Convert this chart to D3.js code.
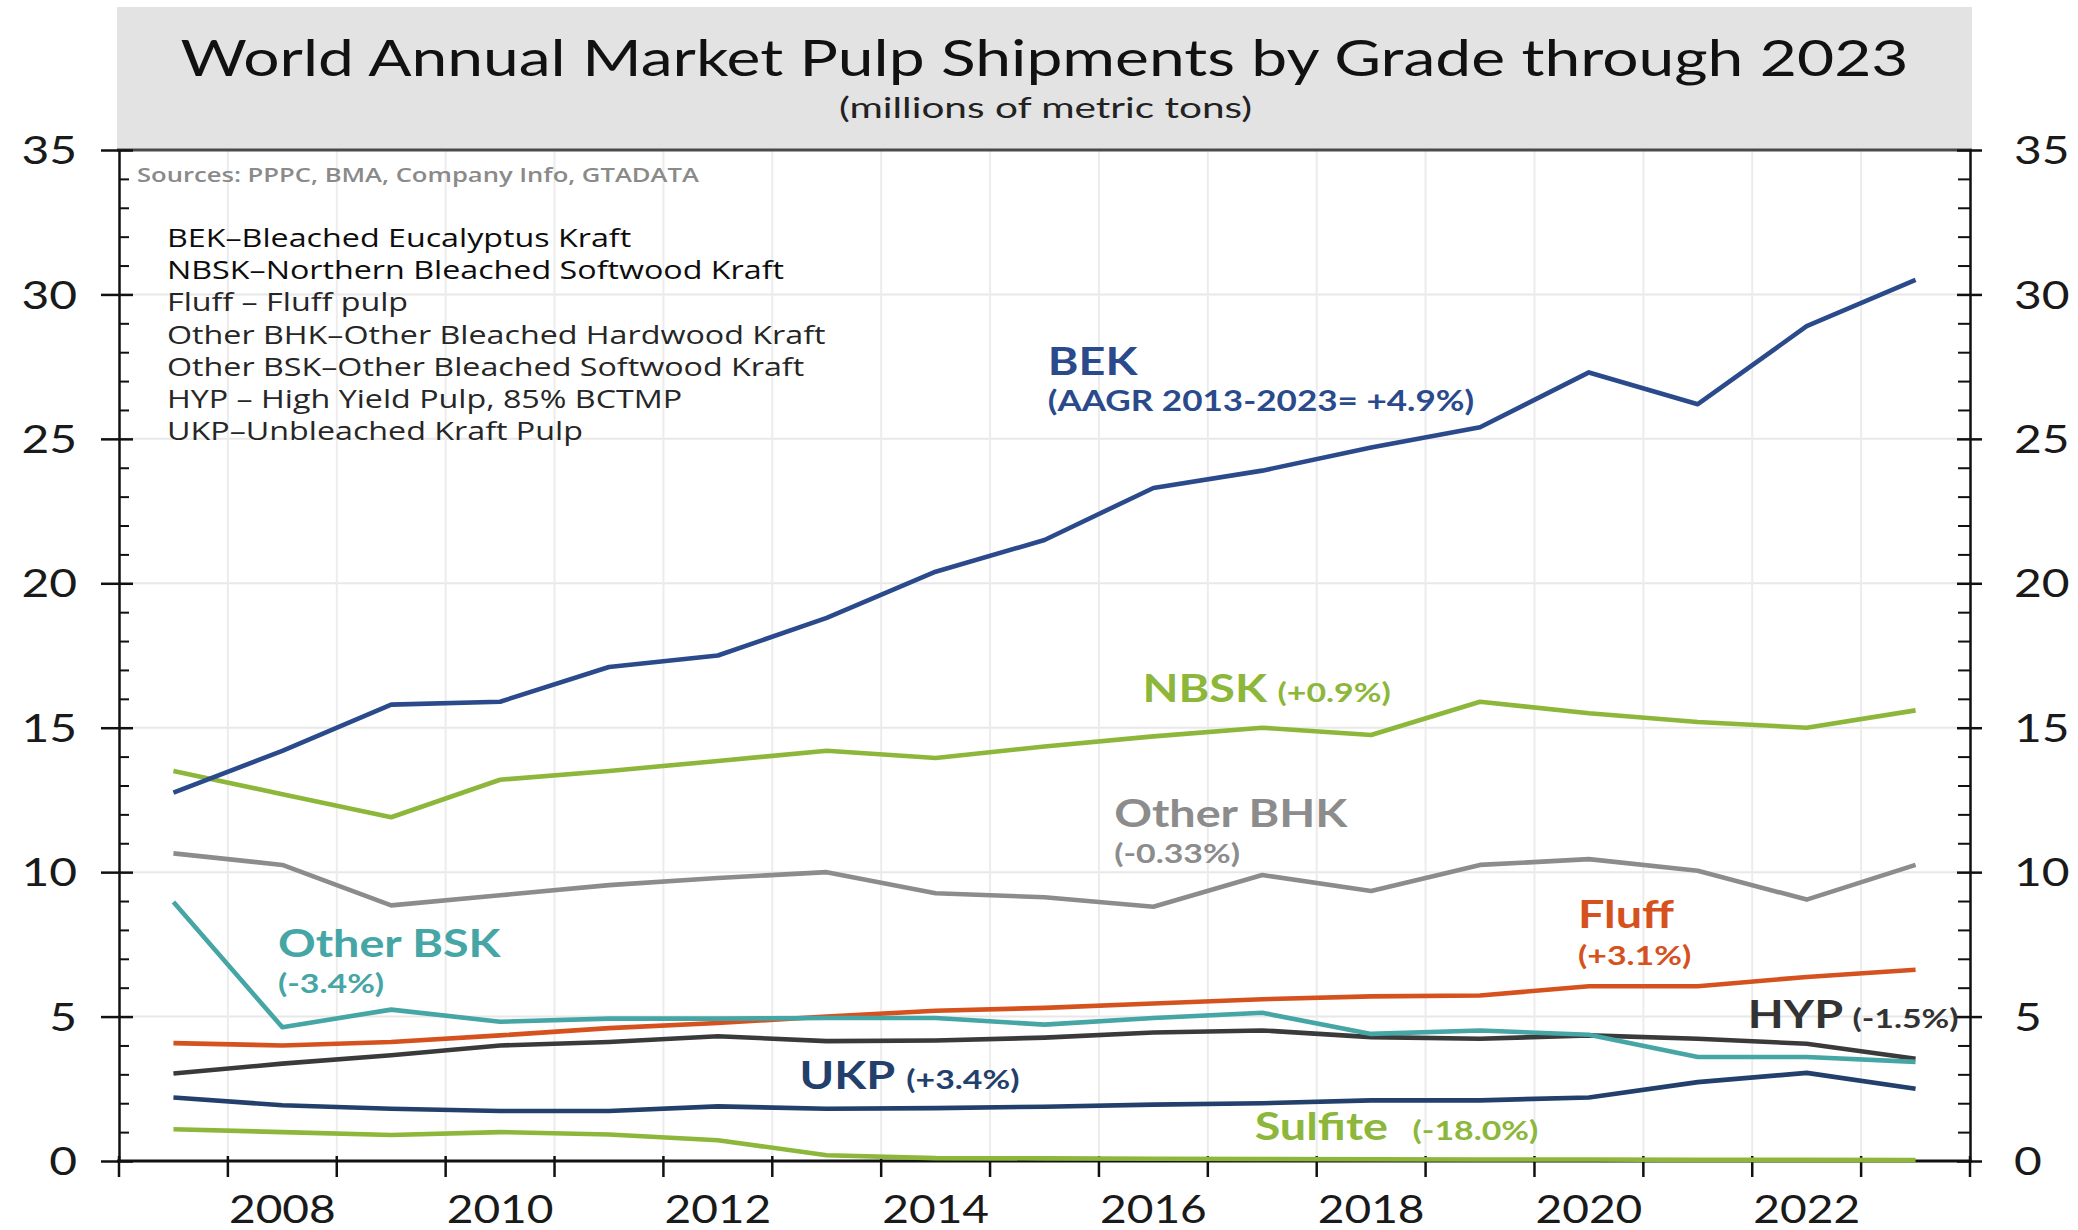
<!DOCTYPE html>
<html><head><meta charset="utf-8">
<script src="https://cdn.jsdelivr.net/npm/d3@7"></script>
<style>
html,body{margin:0;padding:0;background:#fff;}
svg{display:block;}
</style></head>
<body>
<svg id="chart" width="2078" height="1230"></svg>
<script>
// ---------------- DATA ----------------
const years = [2007,2008,2009,2010,2011,2012,2013,2014,2015,2016,2017,2018,2019,2020,2021,2022,2023];
const xTickLabels = [2008,2010,2012,2014,2016,2018,2020,2022];
const yTicks = [0,5,10,15,20,25,30,35];
const bek      = [12.75,14.2,15.8,15.9,17.1,17.5,18.8,20.4,21.5,23.3,23.9,24.7,25.4,27.3,26.2,28.9,30.5];
const nbsk     = [13.5,12.7,11.9,13.2,13.5,13.85,14.2,13.95,14.35,14.7,15.0,14.75,15.9,15.5,15.2,15.0,15.6];
const otherBhk = [10.65,10.25,8.85,9.2,9.55,9.8,10.0,9.27,9.13,8.8,9.9,9.35,10.25,10.45,10.05,9.05,10.25];
const fluff    = [4.08,4.0,4.12,4.35,4.6,4.78,5.0,5.2,5.3,5.45,5.6,5.7,5.73,6.05,6.05,6.37,6.62];
const otherBsk = [8.97,4.63,5.24,4.82,4.93,4.93,4.95,4.95,4.72,4.95,5.13,4.4,4.52,4.37,3.6,3.6,3.43];
const hyp      = [3.03,3.37,3.66,4.0,4.12,4.32,4.15,4.17,4.27,4.45,4.52,4.29,4.23,4.35,4.23,4.06,3.54];
const ukp      = [2.2,1.93,1.81,1.73,1.73,1.89,1.81,1.83,1.88,1.95,2.0,2.1,2.1,2.2,2.73,3.05,2.5];
const sulfite  = [1.1,1.0,0.9,1.0,0.92,0.72,0.2,0.1,0.09,0.08,0.07,0.06,0.05,0.05,0.04,0.04,0.03];
const seriesNames = ["Other BHK","HYP","UKP","Fluff","Other BSK","Sulfite","NBSK","BEK"];
const seriesValues = [otherBhk,hyp,ukp,fluff,otherBsk,sulfite,nbsk,bek];
const legendLines = [
  "BEK\u2013Bleached Eucalyptus Kraft",
  "NBSK\u2013Northern Bleached Softwood Kraft",
  "Fluff \u2013 Fluff pulp",
  "Other BHK\u2013Other Bleached Hardwood Kraft",
  "Other BSK\u2013Other Bleached Softwood Kraft",
  "HYP \u2013 High Yield Pulp, 85% BCTMP",
  "UKP\u2013Unbleached Kraft Pulp"
];
const titleText = "World Annual Market Pulp Shipments by Grade through 2023";
const subtitleText = "(millions of metric tons)";
const sourceText = "Sources: PPPC, BMA, Company Info, GTADATA";
// annotation labels (anchored in data coordinates: year, value)
const annotations = [
  {name:"BEK", main:"BEK", sub:"(AAGR 2013-2023= +4.9%)", x:2015.03, y:27.21, subX:2015.03, subY:25.96},
  {name:"NBSK", main:"NBSK", sub:"(+0.9%)", x:2015.90, y:15.89, subX:2017.14, subY:15.89},
  {name:"Other BHK", main:"Other BHK", sub:"(-0.33%)", x:2015.64, y:11.56, subX:2015.64, subY:10.33},
  {name:"Fluff", main:"Fluff", sub:"(+3.1%)", x:2019.90, y:8.07, subX:2019.90, subY:6.79},
  {name:"Other BSK", main:"Other BSK", sub:"(-3.4%)", x:2007.96, y:7.07, subX:2007.96, subY:5.81},
  {name:"HYP", main:"HYP", sub:"(-1.5%)", x:2021.46, y:4.60, subX:2022.42, subY:4.60},
  {name:"UKP", main:"UKP", sub:"(+3.4%)", x:2012.75, y:2.49, subX:2013.73, subY:2.49},
  {name:"Sulfite", main:"Sulfite", sub:"(-18.0%)", x:2016.93, y:0.73, subX:2018.38, subY:0.73}
];

// ---------------- STYLE / LAYOUT ----------------
const colors = {
  "BEK":"#2a4a8c", "NBSK":"#8cb73a", "Other BHK":"#8c8c8c", "Fluff":"#d5521f",
  "Other BSK":"#46a5a5", "HYP":"#3a3a3a", "UKP":"#233f6c", "Sulfite":"#8cb73a"
};
const labelColors = Object.assign({}, colors, {"HYP":"#333333"});
const m = {left:119, right:1970, top:150, bottom:1161};

const svg = d3.select("#chart");

function stretch(sel, f){
  sel.each(function(){
    const w = this.getComputedTextLength();
    this.setAttribute("textLength", (w*f).toFixed(1));
    this.setAttribute("lengthAdjust","spacingAndGlyphs");
  });
  return sel;
}

// scales
const x = d3.scaleBand().domain(years).range([m.left, m.right]).paddingInner(0).paddingOuter(0);
const xc = d => x(d) + x.bandwidth()/2;
const xv = d3.scaleLinear().domain([years[0]-0.5, years[years.length-1]+0.5]).range([m.left, m.right]);
const y = d3.scaleLinear().domain([0,35]).range([m.bottom, m.top]);

// title band
svg.append("rect").attr("x",117).attr("y",7).attr("width",1855).attr("height",m.top-7).attr("fill","#e3e3e3");
svg.append("text").attr("x",(117+1972)/2).attr("y",76).attr("text-anchor","middle")
  .attr("font-family","Lato").attr("font-size",50).attr("fill","#111").text(titleText)
  .attr("textLength",1728).attr("lengthAdjust","spacingAndGlyphs");
svg.append("text").attr("x",(117+1972)/2+1).attr("y",118).attr("text-anchor","middle")
  .attr("font-family","Lato").attr("font-size",29).attr("fill","#222").text(subtitleText)
  .attr("textLength",413).attr("lengthAdjust","spacingAndGlyphs");

// gridlines
const grid = svg.append("g").attr("class","grid");
grid.selectAll("line.h").data(yTicks.slice(1,-1)).join("line").attr("class","h")
  .attr("x1",m.left).attr("x2",m.right).attr("y1",d=>y(d)).attr("y2",d=>y(d))
  .attr("stroke","#e8e8e8").attr("stroke-width",2);
grid.selectAll("line.v").data(years.slice(1)).join("line").attr("class","v")
  .attr("x1",d=>x(d)).attr("x2",d=>x(d)).attr("y1",m.top).attr("y2",m.bottom)
  .attr("stroke","#ececec").attr("stroke-width",2);

// top border
svg.append("line").attr("x1",m.left-2).attr("x2",m.right+2).attr("y1",m.top).attr("y2",m.top)
  .attr("stroke","#4a4a4a").attr("stroke-width",3);

// minor ticks (every 1 unit)
const minor = d3.range(0,36).filter(v => v%5 !== 0);
const leftMinor = svg.append("g").attr("transform",`translate(${m.left},0)`)
  .call(d3.axisRight(y).tickValues(minor).tickSize(10).tickFormat(""));
leftMinor.select(".domain").remove();
leftMinor.selectAll("line").attr("stroke","#111").attr("stroke-width",2);
const rightMinor = svg.append("g").attr("transform",`translate(${m.right},0)`)
  .call(d3.axisLeft(y).tickValues(minor).tickSize(12).tickFormat(""));
rightMinor.select(".domain").remove();
rightMinor.selectAll("line").attr("stroke","#111").attr("stroke-width",2);

// left major axis
const leftAx = svg.append("g").attr("transform",`translate(${m.left},0)`)
  .call(d3.axisLeft(y).tickValues(yTicks).tickSizeInner(18).tickSizeOuter(0).tickPadding(24));
leftAx.select(".domain").attr("stroke","#111").attr("stroke-width",2.5);
leftAx.selectAll(".tick line").attr("x1",14).attr("x2",-18).attr("stroke","#111").attr("stroke-width",2.5);
leftAx.selectAll(".tick text").attr("font-family","Lato").attr("font-size",38).attr("fill","#1a1a1a")
  .attr("x",-42).attr("dy","0.36em").call(stretch, 1.26);

// right major axis
const rightAx = svg.append("g").attr("transform",`translate(${m.right},0)`)
  .call(d3.axisRight(y).tickValues(yTicks).tickSizeInner(12).tickSizeOuter(0).tickPadding(30));
rightAx.select(".domain").attr("stroke","#111").attr("stroke-width",2.5);
rightAx.selectAll(".tick line").attr("x1",-13).attr("x2",12).attr("stroke","#111").attr("stroke-width",2.5);
rightAx.selectAll(".tick text").attr("font-family","Lato").attr("font-size",38).attr("fill","#1a1a1a")
  .attr("x",44).attr("dy","0.36em").call(stretch, 1.26);

// bottom axis: ticks at band boundaries
const edges = years.map(d => x(d)).concat([m.right]);
svg.append("g").selectAll("line").data(edges).join("line")
  .attr("x1",d=>d).attr("x2",d=>d).attr("y1",m.bottom-5).attr("y2",m.bottom+16)
  .attr("stroke","#111").attr("stroke-width",2.5);
const bottomAx = svg.append("g").attr("transform",`translate(0,${m.bottom})`)
  .call(d3.axisBottom(x).tickValues(xTickLabels).tickSize(0).tickPadding(34));
bottomAx.select(".domain").remove();
bottomAx.selectAll(".tick text").attr("font-family","Lato").attr("font-size",39).attr("fill","#1a1a1a")
  .call(stretch, 1.18);
svg.append("line").attr("x1",m.left-2).attr("x2",m.right+2).attr("y1",m.bottom).attr("y2",m.bottom)
  .attr("stroke","#111").attr("stroke-width",3);

// sources + legend text
svg.append("text").attr("x",137).attr("y",182).attr("font-family","Open Sans")
  .attr("font-weight",600).attr("font-size",20).attr("fill","#8a8a8a").text(sourceText)
  .call(stretch, 1.28);
svg.append("g").selectAll("text").data(legendLines).join("text")
  .attr("x",167).attr("y",(d,i)=>247 + i*32.2)
  .attr("font-family","Open Sans").attr("font-size",26).attr("fill",(d,i)=> i<2 ? "#0d0d0d" : "#262626")
  .attr("font-weight",(d,i)=> i<2 ? 500 : 400)
  .text(d=>d).call(stretch, 1.24);

// lines
const line = d3.line().x((d,i)=>xc(years[i])).y(d=>y(d)).curve(d3.curveLinear);
svg.append("g").selectAll("path").data(seriesValues).join("path")
  .attr("d", d => line(d))
  .attr("fill","none")
  .attr("stroke",(d,i)=>colors[seriesNames[i]])
  .attr("stroke-width",4.6)
  .attr("stroke-linejoin","round");

// annotations
const ann = svg.append("g");
annotations.forEach(a => {
  ann.append("text").attr("x",xv(a.x)).attr("y",y(a.y))
    .attr("font-family","Lato").attr("font-weight",700).attr("font-size",38)
    .attr("fill",labelColors[a.name]).text(a.main).call(stretch, 1.23);
  ann.append("text").attr("x",xv(a.subX)).attr("y",y(a.subY))
    .attr("font-family","Lato").attr("font-weight",700).attr("font-size", a.name==="BEK" ? 28.5 : 27.5)
    .attr("fill",labelColors[a.name]).text(a.sub).call(stretch, 1.23);
});
</script>
</body></html>
